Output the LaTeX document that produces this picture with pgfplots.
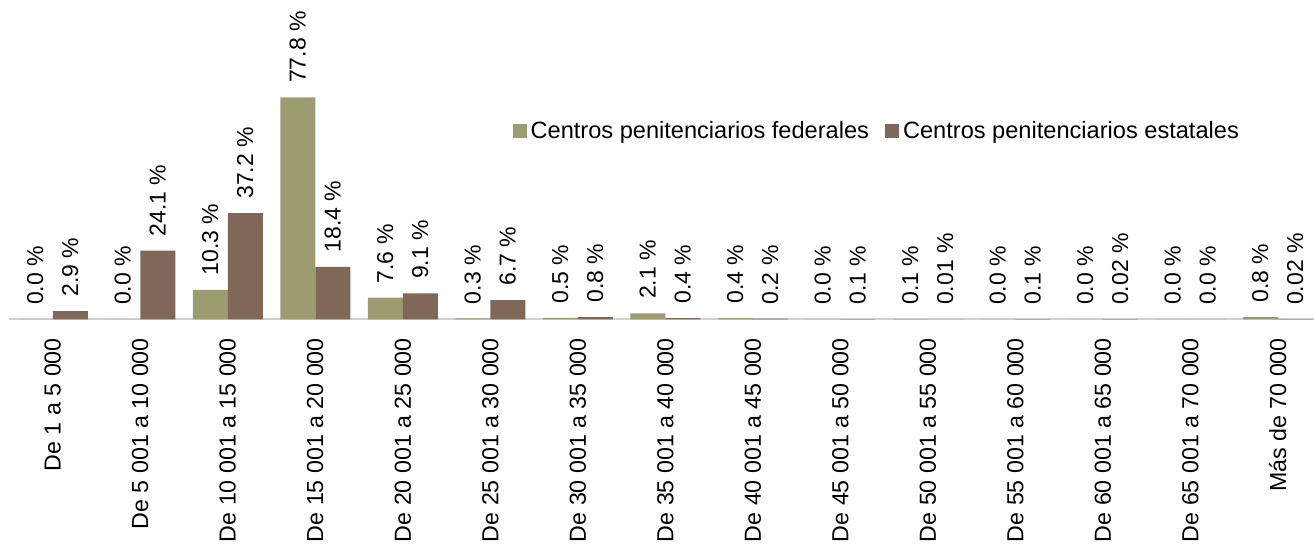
\documentclass[border=0pt]{standalone}
\usepackage{pgfplots}
\pgfplotsset{compat=1.18}
\usepackage{pgfplotstable}
\usepackage{fontspec}
\setmainfont{Liberation Sans}

\definecolor{fedgreen}{RGB}{156,156,112}
\definecolor{estbrown}{RGB}{128,104,89}

% x, value, label
\pgfplotstableread{
x y lab
0  0.0  {0.0 \%}
1  0.0  {0.0 \%}
2  10.3 {10.3 \%}
3  77.8 {77.8 \%}
4  7.6  {7.6 \%}
5  0.3  {0.3 \%}
6  0.5  {0.5 \%}
7  2.1  {2.1 \%}
8  0.4  {0.4 \%}
9  0.0  {0.0 \%}
10 0.1  {0.1 \%}
11 0.0  {0.0 \%}
12 0.0  {0.0 \%}
13 0.0  {0.0 \%}
14 0.8  {0.8 \%}
}\federales

\pgfplotstableread{
x y lab
0  2.9  {2.9 \%}
1  24.1 {24.1 \%}
2  37.2 {37.2 \%}
3  18.4 {18.4 \%}
4  9.1  {9.1 \%}
5  6.7  {6.7 \%}
6  0.8  {0.8 \%}
7  0.4  {0.4 \%}
8  0.2  {0.2 \%}
9  0.1  {0.1 \%}
10 0.01 {0.01 \%}
11 0.1  {0.1 \%}
12 0.02 {0.02 \%}
13 0.0  {0.0 \%}
14 0.02 {0.02 \%}
}\estatales

\begin{document}
\begin{tikzpicture}
\begin{axis}[
    name=ax, at={(0,0)}, anchor=south west,
    scale only axis, width=652.5pt, height=142.65pt,
    xmin=-0.5, xmax=14.414, ymin=0, ymax=100,
    ybar=0pt, bar width=17.5pt,
    axis y line=none, axis x line*=bottom,
    x axis line style={draw=black!18, line width=1pt},
    xtick=data, xtick style={draw=none},
    xticklabels={De 1 a 5 000, De 5 001 a 10 000, De 10 001 a 15 000,
        De 15 001 a 20 000, De 20 001 a 25 000, De 25 001 a 30 000,
        De 30 001 a 35 000, De 35 001 a 40 000, De 40 001 a 45 000,
        De 45 001 a 50 000, De 50 001 a 55 000, De 55 001 a 60 000,
        De 60 001 a 65 000, De 65 001 a 70 000, Más de 70 000},
    xticklabel style={rotate=90, anchor=east, font=\fontsize{11.6}{13}\selectfont,
        inner xsep=5pt, inner ysep=1pt},
    clip=false,
    nodes near coords, point meta=explicit symbolic,
    nodes near coords style={rotate=90, anchor=west, inner xsep=7pt,
        font=\fontsize{11.5}{13}\selectfont, text=black},
    legend columns=2,
    legend style={draw=none, fill=none, at={(axis description cs:0.381,0.66)},
        anchor=west, font=\fontsize{11.8}{13}\selectfont,
        /tikz/every even column/.append style={column sep=6pt},
        nodes={inner xsep=2pt}},
    legend image code/.code={\fill[#1] (0pt,-3.5pt) rectangle (7pt,3.5pt);},
]
\addplot[fill=fedgreen, draw=none] table[x=x, y=y, meta=lab] {\federales};
\addlegendentry{Centros penitenciarios federales}
\addplot[fill=estbrown, draw=none] table[x=x, y=y, meta=lab] {\estatales};
\addlegendentry{Centros penitenciarios estatales}
\end{axis}
\pgfresetboundingbox
\path ([shift={(-4.5pt,-112.5pt)}]ax.south west) rectangle ([shift={(0pt,17pt)}]ax.north east);
\end{tikzpicture}
\end{document}
